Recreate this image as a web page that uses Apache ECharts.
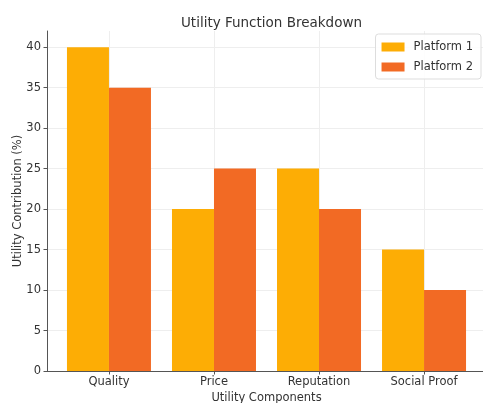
<!DOCTYPE html>
<html>
<head>
<meta charset="utf-8">
<script src="https://cdn.jsdelivr.net/npm/echarts@6/dist/echarts.min.js"></script>
<style>
  html, body { margin: 0; padding: 0; background: #fff; }
  #chart { width: 483px; height: 403px; }
</style>
</head>
<body>
<div id="chart"></div>
<script>
// Utility components and each platform's contribution (%)
const categories = ['Quality', 'Price', 'Reputation', 'Social Proof'];
const platform1 = [40, 20, 25, 15];
const platform2 = [35, 25, 20, 10];
const yTicks = [0, 5, 10, 15, 20, 25, 30, 35, 40];

const FONT = 'DejaVu Sans';
const AXIS_COLOR = '#555555';
const TEXT_COLOR = '#333333';
const GRID_COLOR = '#eeeeee';
const Y_MAX = 42;
const positions = categories.map((_, i) => i);

const chart = echarts.init(document.getElementById('chart'), null, { renderer: 'canvas' });

chart.setOption({
  animation: false,
  backgroundColor: '#ffffff',
  textStyle: { fontFamily: FONT },
  title: {
    text: 'Utility Function Breakdown',
    left: 266.5,
    textAlign: 'center',
    top: 11,
    textStyle: { fontFamily: FONT, fontSize: 13.5, fontWeight: 'normal', color: TEXT_COLOR }
  },
  legend: {
    right: 2,
    top: 34,
    orient: 'vertical',
    icon: 'rect',
    itemWidth: 23,
    itemHeight: 9,
    itemGap: 8,
    padding: [7, 8, 6, 6],
    borderColor: '#dddddd',
    borderWidth: 1,
    borderRadius: 3,
    backgroundColor: 'rgba(255,255,255,0.85)',
    textStyle: { fontFamily: FONT, fontSize: 11.5, color: TEXT_COLOR, padding: [0, 0, 0, 4] },
    data: ['Platform 1', 'Platform 2']
  },
  grid: { left: 47, right: -3, top: 31, bottom: 32, containLabel: false, outerBoundsMode: 'none' },
  xAxis: {
    type: 'value',
    min: -0.59,
    max: 3.59,
    name: 'Utility Components',
    nameLocation: 'middle',
    nameGap: 21,
    nameMoveOverlap: false,
    nameTextStyle: { fontFamily: FONT, fontSize: 11.5, color: TEXT_COLOR },
    axisLine: { show: true, onZero: false, lineStyle: { color: AXIS_COLOR, width: 1 } },
    axisTick: { show: true, customValues: positions, length: 3.5, lineStyle: { color: AXIS_COLOR } },
    axisLabel: {
      customValues: positions,
      formatter: v => categories[Math.round(v)],
      fontFamily: FONT, fontSize: 11.5, color: TEXT_COLOR, margin: 5
    },
    splitLine: { show: false }
  },
  yAxis: {
    type: 'value',
    min: 0,
    max: Y_MAX,
    interval: 5,
    name: 'Utility Contribution (%)',
    nameLocation: 'middle',
    nameGap: 23,
    nameMoveOverlap: false,
    nameTextStyle: { fontFamily: FONT, fontSize: 11.5, color: TEXT_COLOR },
    axisLine: { show: true, onZero: false, lineStyle: { color: AXIS_COLOR, width: 1 } },
    axisTick: { show: true, customValues: yTicks, length: 3.5, lineStyle: { color: AXIS_COLOR } },
    axisLabel: { customValues: yTicks, fontFamily: FONT, fontSize: 11.5, color: TEXT_COLOR, margin: 6 },
    splitLine: { show: true, lineStyle: { color: GRID_COLOR, width: 1 } }
  },
  series: [
    {
      // faint vertical grid lines through each category centre
      type: 'line',
      data: [],
      silent: true,
      z: 0,
      markLine: {
        silent: true,
        symbol: ['none', 'none'],
        z: 0,
        label: { show: false },
        lineStyle: { color: GRID_COLOR, width: 1, type: 'solid' },
        data: positions.map(p => [{ coord: [p, 0] }, { coord: [p, Y_MAX] }])
      }
    },
    {
      name: 'Platform 1',
      type: 'bar',
      z: 3,
      data: platform1.map((v, i) => [i, v]),
      barWidth: 42,
      barGap: '0%',
      itemStyle: { color: '#FDAD05' }
    },
    {
      name: 'Platform 2',
      type: 'bar',
      z: 3,
      data: platform2.map((v, i) => [i, v]),
      barWidth: 42,
      barGap: '0%',
      itemStyle: { color: '#F26A24' }
    }
  ]
});
</script>
</body>
</html>
